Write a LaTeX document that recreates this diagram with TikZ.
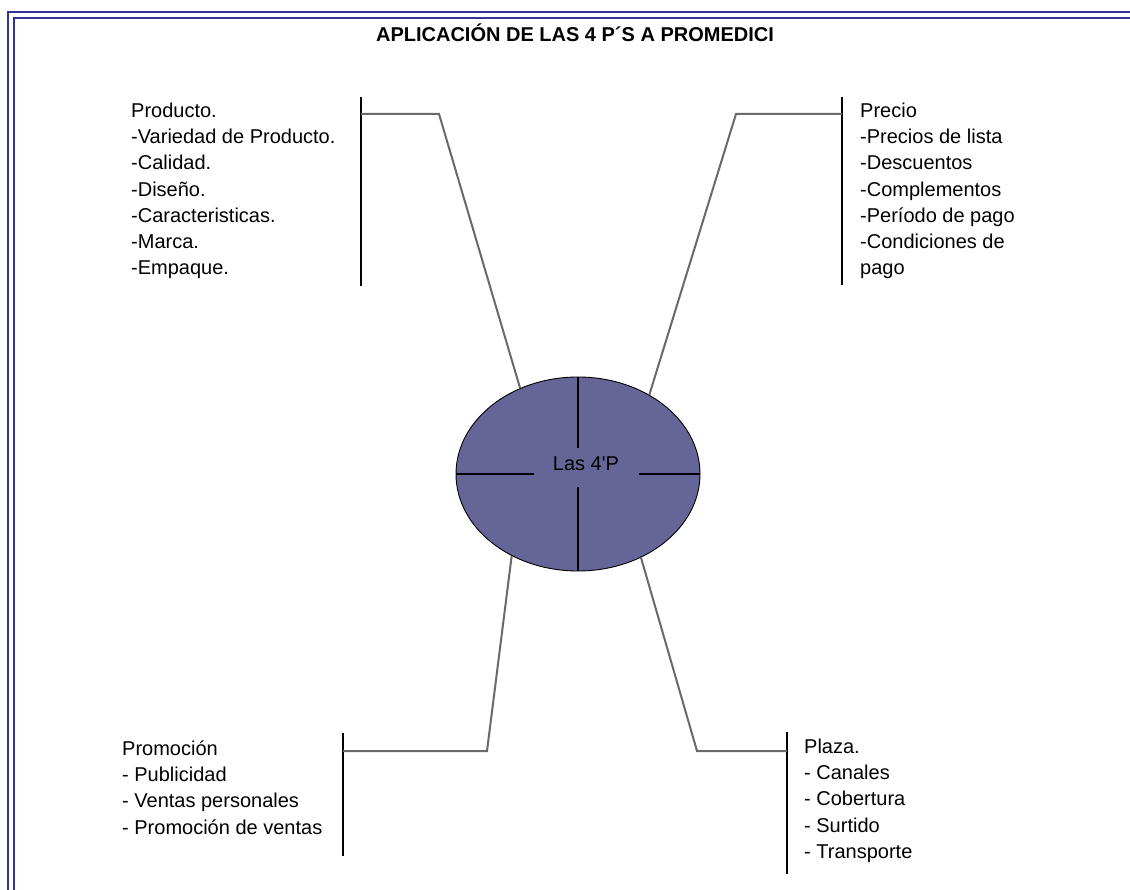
\documentclass[tikz,border=0pt]{standalone}
\usepackage{fontspec}
\setmainfont{Liberation Sans}
\usetikzlibrary{shapes.geometric}

\definecolor{framecol}{RGB}{51,51,153}
\definecolor{ovalfill}{RGB}{101,101,152}
\definecolor{linkcol}{RGB}{105,105,105}

\tikzset{
  frameline/.style={draw=framecol, line width=2.4pt},
  bar/.style={draw=black, line width=1.4pt},
  link/.style={draw=linkcol, line width=2pt, line join=miter},
  crossline/.style={draw=black, line width=1.2pt},
  listtext/.style={align=left, inner sep=0pt, anchor=north west,
    font=\fontsize{20}{26.3}\selectfont},
}

\begin{document}
\begin{tikzpicture}[x=1pt, y=-1pt]
\useasboundingbox (0,0) rectangle (1130,890);
\clip (0,0) rectangle (1130,890);

% double frame
\draw[frameline] (8,12) rectangle (1150,910);
\draw[frameline] (14,18) rectangle (1144,904);

% title
\node[font=\bfseries\fontsize{20}{24}\selectfont, anchor=base, inner sep=0pt]
  (title) at (575,41.5) {APLICACIÓN DE LAS 4 P´S A PROMEDICI};

% central oval
\node[ellipse, draw=black, line width=0.9pt, fill=ovalfill,
  minimum width=244pt, minimum height=194pt, inner sep=0pt] (c) at (578,474) {};
\coordinate (vt) at (578,448);
\coordinate (vb) at (578,487);
\coordinate (hl) at (534,474);
\coordinate (hr) at (639,474);
\draw[crossline] (c.north) -- (vt);
\draw[crossline] (vb) -- (c.south);
\draw[crossline] (c.west) -- (hl);
\draw[crossline] (hr) -- (c.east);
\node[font=\fontsize{20}{24}\selectfont, anchor=base, inner sep=0pt]
  (lbl) at (586,470) {Las 4\textquotesingle P};

% Producto
\coordinate (pa) at (361,97);
\coordinate (pb) at (361,286);
\coordinate (pj) at (361,114);
\coordinate (pk) at (439,114);
\draw[bar] (pa) -- (pb);
\draw[link] (pj) -- (pk) -- (c.124.9);
\node[listtext] (prod) at (131,102) {\rule{0pt}{15pt}Producto.\\-Variedad de Producto.\\-Calidad.\\-Diseño.\\-Caracteristicas.\\-Marca.\\-Empaque.};

% Precio
\coordinate (ra) at (842,97);
\coordinate (rb) at (842,285);
\coordinate (rj) at (842,114);
\coordinate (rk) at (736,114);
\draw[bar] (ra) -- (rb);
\draw[link] (rj) -- (rk) -- (c.48.8);
\node[listtext] (prec) at (860,102) {\rule{0pt}{15pt}Precio\\-Precios de lista\\-Descuentos\\-Complementos\\-Período de pago\\-Condiciones de\\pago};

% Promocion
\coordinate (ma) at (343,733);
\coordinate (mb) at (343,856);
\coordinate (mj) at (343,751);
\coordinate (mk) at (487,751);
\draw[bar] (ma) -- (mb);
\draw[link] (mj) -- (mk) -- (c.231.9);
\node[listtext] (prom) at (122,740) {\rule{0pt}{15pt}Promoción\\- Publicidad\\- Ventas personales\\- Promoción de ventas};

% Plaza
\coordinate (za) at (787,732);
\coordinate (zb) at (787,874);
\coordinate (zj) at (787,751);
\coordinate (zk) at (697,751);
\draw[bar] (za) -- (zb);
\draw[link] (zj) -- (zk) -- (c.307);
\node[listtext] (plaz) at (804,738) {\rule{0pt}{15pt}Plaza.\\- Canales\\- Cobertura\\- Surtido\\- Transporte};
\end{tikzpicture}
\end{document}
